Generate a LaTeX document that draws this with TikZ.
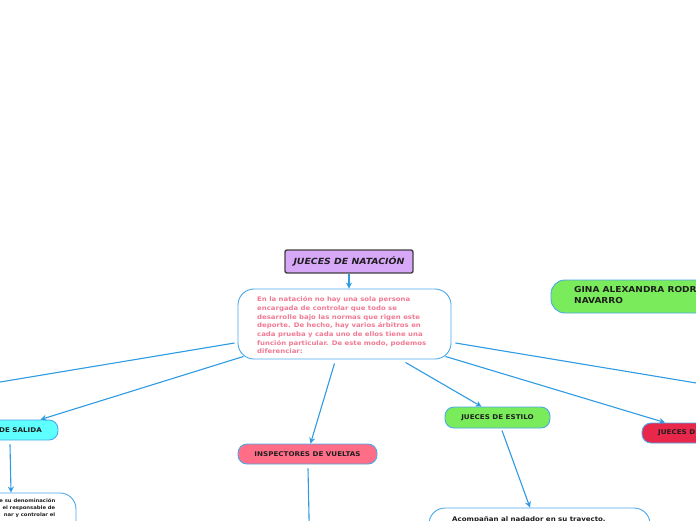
\documentclass[tikz,border=0pt]{standalone}
\usepackage{fontspec}
\setmainfont[FakeStretch=1.1]{DejaVu Sans}
\usetikzlibrary{arrows.meta,calc}
\definecolor{lav}{HTML}{D8A8F8}
\definecolor{cyanb}{HTML}{5EFFFF}
\definecolor{pinkb}{HTML}{FF6E86}
\definecolor{greenb}{HTML}{7AEB5A}
\definecolor{redb}{HTML}{E8274A}
\definecolor{pinktxt}{HTML}{F07A93}
\definecolor{conn}{HTML}{2F9BE3}
\definecolor{bord}{HTML}{4AA8EC}
\definecolor{dark}{HTML}{1E1E1E}
\tikzset{
  pill/.style={draw=bord, line width=0.9pt, rounded corners=9pt, inner sep=0pt},
  bigbox/.style={draw=bord, line width=0.9pt, rounded corners=16pt, fill=white, inner sep=0pt},
  lbl/.style={inner sep=0pt, text=dark, font=\fontsize{6.5}{8}\selectfont\bfseries},
  conline/.style={draw=conn, line width=1.1pt},
  conarrow/.style={conline, -{Stealth[length=6pt,width=6pt]}}
}
\begin{document}
\begin{tikzpicture}[x=1pt,y=-1pt]
\useasboundingbox (0,0) rectangle (696,520);
\clip (0,0) rectangle (696,520);
\fill[white] (0,0) rectangle (696,520);

% title
\node[draw=dark!85, line width=1.4pt, fill=lav, rounded corners=2pt, minimum width=128pt, minimum height=23pt, inner sep=0pt,
      font=\fontsize{8.5}{10}\selectfont\bfseries\itshape, text=dark] (title) at (349,261.5) {JUECES DE NATACIÓN};

% main box
\node[bigbox, minimum width=213pt, minimum height=70pt] (main) at (344.5,324) {};
\node[anchor=north west, inner sep=0pt, align=left, text=pinktxt, font=\fontsize{6.3}{8.7}\selectfont\bfseries] (mainT) at (257,296.5)
 {En la natación no hay una sola persona\\
  encargada de controlar que todo se\\
  desarrolle bajo las normas que rigen este\\
  deporte. De hecho, hay varios árbitros en\\
  cada prueba y cada uno de ellos tiene una\\
  función particular. De este modo, podemos\\
  diferenciar:};

% GINA
\node[pill, fill=greenb, rounded corners=14pt, minimum width=260pt, minimum height=33pt] (gina) at (681,296.5) {};
\node[lbl, anchor=north west, align=left, font=\fontsize{8.2}{10.5}\selectfont\bfseries] (ginaT) at (574,286.5) {GINA ALEXANDRA RODR\\NAVARRO};

% salida
\node[pill, fill=cyanb, minimum width=110pt, minimum height=20pt] (salida) at (3,430) {};
\node[lbl, anchor=east] (salidaT) at (42,430) {DE SALIDA};
\node[bigbox, minimum width=226pt, minimum height=70pt] (sdesc) at (-37,528) {};
\node[anchor=north east, inner sep=0pt, align=right, text=dark, font=\fontsize{4.8}{7}\selectfont\bfseries] (sdescT) at (55.5,498)
 {e su denominación\\ el responsable de\\ nar y controlar el};

% inspectores
\node[pill, fill=pinkb, minimum width=139pt, minimum height=20pt, font=\fontsize{6.5}{8}\selectfont\bfseries, text=dark] (insp) at (307.5,454) {INSPECTORES DE VUELTAS};
\coordinate (inspBelow) at (309.5,540);

% estilo
\node[pill, fill=greenb, minimum width=105pt, minimum height=21pt, font=\fontsize{6.5}{8}\selectfont\bfseries, text=dark] (estilo) at (497.5,417.5) {JUECES DE ESTILO};
\node[bigbox, minimum width=221pt, minimum height=60pt] (edesc) at (539.5,538) {};
\node[lbl, anchor=base west, font=\fontsize{6.4}{9}\selectfont\bfseries] (edescT) at (452,521) {Acompañan al nadador en su trayecto.};

% red
\node[pill, fill=redb, minimum width=118pt, minimum height=20pt] (red) at (701,433) {};
\node[lbl, anchor=west] (redT) at (658,433) {JUECES D};

% off-screen ends
\coordinate (offL) at (-60,392);
\coordinate (offR) at (760,393.6);

% connectors
\draw[conarrow] (title.south) -- (title.south |- main.north);
\draw[conline] ($(main.west)+(-3,19)$) -- (offL);
\draw[conarrow] ($(main.south west)+(6,-3)$) -- ($(salida.north east)+(-18,0)$);
\draw[conarrow] ($(main.south)+(-10,4)$) -- ($(insp.north)+(3,0)$);
\draw[conarrow] ($(main.south)+(61,3)$) -- ($(estilo.north)+(-16,0)$);
\draw[conarrow] ($(main.south east)+(-6,-3)$) -- ($(red.north)+(-36,0)$);
\draw[conline] ($(main.east)+(4,19)$) -- (offR);
\draw[conarrow] ($(salida.south)+(7,4)$) -- ($(sdesc.north)+(48,0)$);
\draw[conline] ($(insp.south)+(0.5,4)$) -- (inspBelow);
\draw[conarrow] ($(estilo.south)+(4.5,2)$) -- ($(edesc.north)+(-9.5,0)$);
\end{tikzpicture}
\end{document}
